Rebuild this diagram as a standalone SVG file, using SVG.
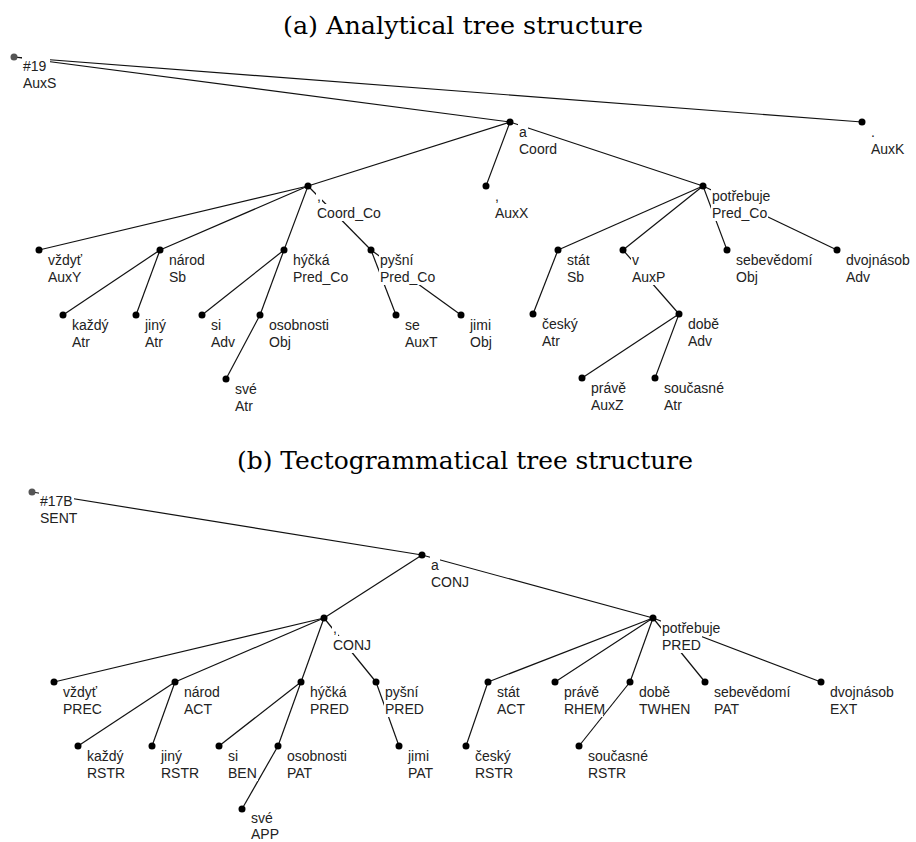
<svg xmlns="http://www.w3.org/2000/svg" width="916" height="842" viewBox="0 0 916 842">
<style>
.edge{stroke:#111;stroke-width:1.2;fill:none}
.dot{fill:#000}
.rdot{fill:#555}
.bg{fill:#fff}
.lbl{font-family:"Liberation Sans",Arial,sans-serif;font-size:14px;fill:#222}
.title{font-family:"DejaVu Serif","Liberation Serif",serif;font-size:25px;fill:#000}
</style>
<rect width="916" height="842" fill="#fff"/>
<text class="title" x="283" y="34" textLength="360" lengthAdjust="spacingAndGlyphs">(a) Analytical tree structure</text>
<text class="title" x="237" y="469" textLength="456" lengthAdjust="spacingAndGlyphs">(b) Tectogrammatical tree structure</text>

<g id="connectors">
<line class="edge" x1="14" y1="57" x2="862" y2="122"/>
<line class="edge" x1="14" y1="57" x2="510" y2="122"/>
<line class="edge" x1="510" y1="122" x2="308" y2="186"/>
<line class="edge" x1="510" y1="122" x2="486" y2="186"/>
<line class="edge" x1="510" y1="122" x2="703" y2="186"/>
<line class="edge" x1="308" y1="186" x2="39" y2="250"/>
<line class="edge" x1="308" y1="186" x2="160" y2="250"/>
<line class="edge" x1="308" y1="186" x2="284" y2="250"/>
<line class="edge" x1="308" y1="186" x2="371" y2="250"/>
<line class="edge" x1="160" y1="250" x2="63" y2="315"/>
<line class="edge" x1="160" y1="250" x2="136" y2="315"/>
<line class="edge" x1="284" y1="250" x2="202" y2="315"/>
<line class="edge" x1="284" y1="250" x2="260" y2="315"/>
<line class="edge" x1="260" y1="315" x2="226" y2="379"/>
<line class="edge" x1="371" y1="250" x2="396" y2="315"/>
<line class="edge" x1="371" y1="250" x2="461" y2="315"/>
<line class="edge" x1="703" y1="186" x2="558" y2="250"/>
<line class="edge" x1="703" y1="186" x2="623" y2="250"/>
<line class="edge" x1="703" y1="186" x2="727" y2="250"/>
<line class="edge" x1="703" y1="186" x2="837" y2="250"/>
<line class="edge" x1="558" y1="250" x2="533" y2="314"/>
<line class="edge" x1="623" y1="250" x2="679" y2="314"/>
<line class="edge" x1="679" y1="314" x2="582" y2="378"/>
<line class="edge" x1="679" y1="314" x2="655" y2="378"/>
<line class="edge" x1="32" y1="492" x2="422" y2="555"/>
<line class="edge" x1="422" y1="555" x2="324" y2="618"/>
<line class="edge" x1="422" y1="555" x2="653" y2="618"/>
<line class="edge" x1="324" y1="618" x2="54" y2="682"/>
<line class="edge" x1="324" y1="618" x2="175" y2="682"/>
<line class="edge" x1="324" y1="618" x2="301" y2="682"/>
<line class="edge" x1="324" y1="618" x2="376" y2="682"/>
<line class="edge" x1="175" y1="682" x2="78" y2="746"/>
<line class="edge" x1="175" y1="682" x2="152" y2="746"/>
<line class="edge" x1="301" y1="682" x2="219" y2="746"/>
<line class="edge" x1="301" y1="682" x2="278" y2="746"/>
<line class="edge" x1="278" y1="746" x2="242" y2="809"/>
<line class="edge" x1="376" y1="682" x2="399" y2="746"/>
<line class="edge" x1="653" y1="618" x2="488" y2="682"/>
<line class="edge" x1="653" y1="618" x2="555" y2="682"/>
<line class="edge" x1="653" y1="618" x2="630" y2="682"/>
<line class="edge" x1="653" y1="618" x2="705" y2="682"/>
<line class="edge" x1="653" y1="618" x2="821" y2="682"/>
<line class="edge" x1="488" y1="682" x2="466" y2="746"/>
<line class="edge" x1="630" y1="682" x2="579" y2="746"/>
</g>

<g id="a_root"><circle class="rdot" cx="14" cy="57" r="3.5"/><rect class="bg" x="22" y="56" width="28" height="17"/><rect class="bg" x="22" y="73" width="36" height="17"/><text class="lbl" x="23" y="71">#19</text><text class="lbl" x="23" y="88">AuxS</text></g>
<g id="a_a"><circle class="dot" cx="510" cy="122" r="3.5"/><rect class="bg" x="518" y="123" width="10" height="17"/><rect class="bg" x="518" y="140" width="40" height="17"/><text class="lbl" x="519" y="137">a</text><text class="lbl" x="519" y="154">Coord</text></g>
<g id="a_auxk"><circle class="dot" cx="862" cy="122" r="3.5"/><rect class="bg" x="870" y="123" width="6" height="17"/><rect class="bg" x="870" y="140" width="36" height="17"/><text class="lbl" x="871" y="137">.</text><text class="lbl" x="871" y="154">AuxK</text></g>
<g id="a_coordco"><circle class="dot" cx="308" cy="186" r="3.5"/><rect class="bg" x="316" y="187" width="6" height="17"/><rect class="bg" x="316" y="204" width="66" height="17"/><text class="lbl" x="317" y="201">,</text><text class="lbl" x="317" y="218">Coord_Co</text></g>
<g id="a_auxx"><circle class="dot" cx="486" cy="186" r="3.5"/><rect class="bg" x="494" y="187" width="6" height="17"/><rect class="bg" x="494" y="204" width="36" height="17"/><text class="lbl" x="495" y="201">,</text><text class="lbl" x="495" y="218">AuxX</text></g>
<g id="a_potrebuje"><circle class="dot" cx="703" cy="186" r="3.5"/><rect class="bg" x="711" y="187" width="60" height="17"/><rect class="bg" x="711" y="204" width="57" height="17"/><text class="lbl" x="712" y="201">potřebuje</text><text class="lbl" x="712" y="218">Pred_Co</text></g>
<g id="a_vzdyt"><circle class="dot" cx="39" cy="250" r="3.5"/><rect class="bg" x="47" y="251" width="36" height="17"/><rect class="bg" x="47" y="268" width="36" height="17"/><text class="lbl" x="48" y="265">vždyť</text><text class="lbl" x="48" y="282">AuxY</text></g>
<g id="a_narod"><circle class="dot" cx="160" cy="250" r="3.5"/><rect class="bg" x="168" y="251" width="38" height="17"/><rect class="bg" x="168" y="268" width="19" height="17"/><text class="lbl" x="169" y="265">národ</text><text class="lbl" x="169" y="282">Sb</text></g>
<g id="a_hycka"><circle class="dot" cx="284" cy="250" r="3.5"/><rect class="bg" x="292" y="251" width="39" height="17"/><rect class="bg" x="292" y="268" width="57" height="17"/><text class="lbl" x="293" y="265">hýčká</text><text class="lbl" x="293" y="282">Pred_Co</text></g>
<g id="a_pysni"><circle class="dot" cx="371" cy="250" r="3.5"/><rect class="bg" x="379" y="251" width="36" height="17"/><rect class="bg" x="379" y="268" width="57" height="17"/><text class="lbl" x="380" y="265">pyšní</text><text class="lbl" x="380" y="282">Pred_Co</text></g>
<g id="a_stat"><circle class="dot" cx="558" cy="250" r="3.5"/><rect class="bg" x="566" y="251" width="25" height="17"/><rect class="bg" x="566" y="268" width="19" height="17"/><text class="lbl" x="567" y="265">stát</text><text class="lbl" x="567" y="282">Sb</text></g>
<g id="a_v"><circle class="dot" cx="623" cy="250" r="3.5"/><rect class="bg" x="631" y="251" width="9" height="17"/><rect class="bg" x="631" y="268" width="36" height="17"/><text class="lbl" x="632" y="265">v</text><text class="lbl" x="632" y="282">AuxP</text></g>
<g id="a_sebevedomi"><circle class="dot" cx="727" cy="250" r="3.5"/><rect class="bg" x="735" y="251" width="78" height="17"/><rect class="bg" x="735" y="268" width="24" height="17"/><text class="lbl" x="736" y="265">sebevědomí</text><text class="lbl" x="736" y="282">Obj</text></g>
<g id="a_dvojnasob"><circle class="dot" cx="837" cy="250" r="3.5"/><rect class="bg" x="845" y="251" width="66" height="17"/><rect class="bg" x="845" y="268" width="26" height="17"/><text class="lbl" x="846" y="265">dvojnásob</text><text class="lbl" x="846" y="282">Adv</text></g>
<g id="a_kazdy"><circle class="dot" cx="63" cy="315" r="3.5"/><rect class="bg" x="71" y="316" width="39" height="17"/><rect class="bg" x="71" y="333" width="20" height="17"/><text class="lbl" x="72" y="330">každý</text><text class="lbl" x="72" y="347">Atr</text></g>
<g id="a_jiny"><circle class="dot" cx="136" cy="315" r="3.5"/><rect class="bg" x="144" y="316" width="23" height="17"/><rect class="bg" x="144" y="333" width="20" height="17"/><text class="lbl" x="145" y="330">jiný</text><text class="lbl" x="145" y="347">Atr</text></g>
<g id="a_si"><circle class="dot" cx="202" cy="315" r="3.5"/><rect class="bg" x="210" y="316" width="12" height="17"/><rect class="bg" x="210" y="333" width="26" height="17"/><text class="lbl" x="211" y="330">si</text><text class="lbl" x="211" y="347">Adv</text></g>
<g id="a_osobnosti"><circle class="dot" cx="260" cy="315" r="3.5"/><rect class="bg" x="268" y="316" width="62" height="17"/><rect class="bg" x="268" y="333" width="24" height="17"/><text class="lbl" x="269" y="330">osobnosti</text><text class="lbl" x="269" y="347">Obj</text></g>
<g id="a_se"><circle class="dot" cx="396" cy="315" r="3.5"/><rect class="bg" x="404" y="316" width="17" height="17"/><rect class="bg" x="404" y="333" width="35" height="17"/><text class="lbl" x="405" y="330">se</text><text class="lbl" x="405" y="347">AuxT</text></g>
<g id="a_jimi"><circle class="dot" cx="461" cy="315" r="3.5"/><rect class="bg" x="469" y="316" width="23" height="17"/><rect class="bg" x="469" y="333" width="24" height="17"/><text class="lbl" x="470" y="330">jimi</text><text class="lbl" x="470" y="347">Obj</text></g>
<g id="a_cesky"><circle class="dot" cx="533" cy="314" r="3.5"/><rect class="bg" x="541" y="315" width="38" height="17"/><rect class="bg" x="541" y="332" width="20" height="17"/><text class="lbl" x="542" y="329">český</text><text class="lbl" x="542" y="346">Atr</text></g>
<g id="a_dobe"><circle class="dot" cx="679" cy="314" r="3.5"/><rect class="bg" x="687" y="315" width="33" height="17"/><rect class="bg" x="687" y="332" width="26" height="17"/><text class="lbl" x="688" y="329">době</text><text class="lbl" x="688" y="346">Adv</text></g>
<g id="a_sve"><circle class="dot" cx="226" cy="379" r="3.5"/><rect class="bg" x="234" y="380" width="24" height="17"/><rect class="bg" x="234" y="397" width="20" height="17"/><text class="lbl" x="235" y="394">své</text><text class="lbl" x="235" y="411">Atr</text></g>
<g id="a_prave"><circle class="dot" cx="582" cy="378" r="3.5"/><rect class="bg" x="590" y="379" width="37" height="17"/><rect class="bg" x="590" y="396" width="35" height="17"/><text class="lbl" x="591" y="393">právě</text><text class="lbl" x="591" y="410">AuxZ</text></g>
<g id="a_soucasne"><circle class="dot" cx="655" cy="378" r="3.5"/><rect class="bg" x="663" y="379" width="62" height="17"/><rect class="bg" x="663" y="396" width="20" height="17"/><text class="lbl" x="664" y="393">současné</text><text class="lbl" x="664" y="410">Atr</text></g>

<g id="b_root"><circle class="rdot" cx="32" cy="492" r="3.5"/><rect class="bg" x="39" y="491" width="35" height="17"/><rect class="bg" x="39" y="508" width="39" height="17"/><text class="lbl" x="40" y="506">#17B</text><text class="lbl" x="40" y="523">SENT</text></g>
<g id="b_a"><circle class="dot" cx="422" cy="555" r="3.5"/><rect class="bg" x="430" y="556" width="10" height="17"/><rect class="bg" x="430" y="573" width="40" height="17"/><text class="lbl" x="431" y="570">a</text><text class="lbl" x="431" y="587">CONJ</text></g>
<g id="b_conj"><circle class="dot" cx="324" cy="618" r="3.5"/><rect class="bg" x="332" y="619" width="6" height="17"/><rect class="bg" x="332" y="636" width="40" height="17"/><text class="lbl" x="333" y="633">,</text><text class="lbl" x="333" y="650">CONJ</text></g>
<g id="b_potrebuje"><circle class="dot" cx="653" cy="618" r="3.5"/><rect class="bg" x="661" y="619" width="60" height="17"/><rect class="bg" x="661" y="636" width="41" height="17"/><text class="lbl" x="662" y="633">potřebuje</text><text class="lbl" x="662" y="650">PRED</text></g>
<g id="b_vzdyt"><circle class="dot" cx="54" cy="682" r="3.5"/><rect class="bg" x="62" y="683" width="36" height="17"/><rect class="bg" x="62" y="700" width="41" height="17"/><text class="lbl" x="63" y="697">vždyť</text><text class="lbl" x="63" y="714">PREC</text></g>
<g id="b_narod"><circle class="dot" cx="175" cy="682" r="3.5"/><rect class="bg" x="183" y="683" width="38" height="17"/><rect class="bg" x="183" y="700" width="30" height="17"/><text class="lbl" x="184" y="697">národ</text><text class="lbl" x="184" y="714">ACT</text></g>
<g id="b_hycka"><circle class="dot" cx="301" cy="682" r="3.5"/><rect class="bg" x="309" y="683" width="39" height="17"/><rect class="bg" x="309" y="700" width="41" height="17"/><text class="lbl" x="310" y="697">hýčká</text><text class="lbl" x="310" y="714">PRED</text></g>
<g id="b_pysni"><circle class="dot" cx="376" cy="682" r="3.5"/><rect class="bg" x="384" y="683" width="36" height="17"/><rect class="bg" x="384" y="700" width="41" height="17"/><text class="lbl" x="385" y="697">pyšní</text><text class="lbl" x="385" y="714">PRED</text></g>
<g id="b_stat"><circle class="dot" cx="488" cy="682" r="3.5"/><rect class="bg" x="496" y="683" width="25" height="17"/><rect class="bg" x="496" y="700" width="30" height="17"/><text class="lbl" x="497" y="697">stát</text><text class="lbl" x="497" y="714">ACT</text></g>
<g id="b_prave"><circle class="dot" cx="555" cy="682" r="3.5"/><rect class="bg" x="563" y="683" width="37" height="17"/><rect class="bg" x="563" y="700" width="40" height="17"/><text class="lbl" x="564" y="697">právě</text><text class="lbl" x="564" y="714">RHEM</text></g>
<g id="b_dobe"><circle class="dot" cx="630" cy="682" r="3.5"/><rect class="bg" x="638" y="683" width="33" height="17"/><rect class="bg" x="638" y="700" width="53" height="17"/><text class="lbl" x="639" y="697">době</text><text class="lbl" x="639" y="714">TWHEN</text></g>
<g id="b_sebevedomi"><circle class="dot" cx="705" cy="682" r="3.5"/><rect class="bg" x="713" y="683" width="78" height="17"/><rect class="bg" x="713" y="700" width="29" height="17"/><text class="lbl" x="714" y="697">sebevědomí</text><text class="lbl" x="714" y="714">PAT</text></g>
<g id="b_dvojnasob"><circle class="dot" cx="821" cy="682" r="3.5"/><rect class="bg" x="829" y="683" width="66" height="17"/><rect class="bg" x="829" y="700" width="29" height="17"/><text class="lbl" x="830" y="697">dvojnásob</text><text class="lbl" x="830" y="714">EXT</text></g>
<g id="b_kazdy"><circle class="dot" cx="78" cy="746" r="3.5"/><rect class="bg" x="86" y="747" width="39" height="17"/><rect class="bg" x="86" y="764" width="40" height="17"/><text class="lbl" x="87" y="761">každý</text><text class="lbl" x="87" y="778">RSTR</text></g>
<g id="b_jiny"><circle class="dot" cx="152" cy="746" r="3.5"/><rect class="bg" x="160" y="747" width="23" height="17"/><rect class="bg" x="160" y="764" width="40" height="17"/><text class="lbl" x="161" y="761">jiný</text><text class="lbl" x="161" y="778">RSTR</text></g>
<g id="b_si"><circle class="dot" cx="219" cy="746" r="3.5"/><rect class="bg" x="227" y="747" width="12" height="17"/><rect class="bg" x="227" y="764" width="31" height="17"/><text class="lbl" x="228" y="761">si</text><text class="lbl" x="228" y="778">BEN</text></g>
<g id="b_osobnosti"><circle class="dot" cx="278" cy="746" r="3.5"/><rect class="bg" x="286" y="747" width="62" height="17"/><rect class="bg" x="286" y="764" width="29" height="17"/><text class="lbl" x="287" y="761">osobnosti</text><text class="lbl" x="287" y="778">PAT</text></g>
<g id="b_jimi"><circle class="dot" cx="399" cy="746" r="3.5"/><rect class="bg" x="407" y="747" width="23" height="17"/><rect class="bg" x="407" y="764" width="29" height="17"/><text class="lbl" x="408" y="761">jimi</text><text class="lbl" x="408" y="778">PAT</text></g>
<g id="b_cesky"><circle class="dot" cx="466" cy="746" r="3.5"/><rect class="bg" x="474" y="747" width="38" height="17"/><rect class="bg" x="474" y="764" width="40" height="17"/><text class="lbl" x="475" y="761">český</text><text class="lbl" x="475" y="778">RSTR</text></g>
<g id="b_soucasne"><circle class="dot" cx="579" cy="746" r="3.5"/><rect class="bg" x="587" y="747" width="62" height="17"/><rect class="bg" x="587" y="764" width="40" height="17"/><text class="lbl" x="588" y="761">současné</text><text class="lbl" x="588" y="778">RSTR</text></g>
<g id="b_sve"><circle class="dot" cx="242" cy="809" r="3.5"/><rect class="bg" x="250" y="810" width="24" height="16"/><rect class="bg" x="250" y="826" width="30" height="16"/><text class="lbl" x="251" y="823">své</text><text class="lbl" x="251" y="839">APP</text></g>
</svg>
